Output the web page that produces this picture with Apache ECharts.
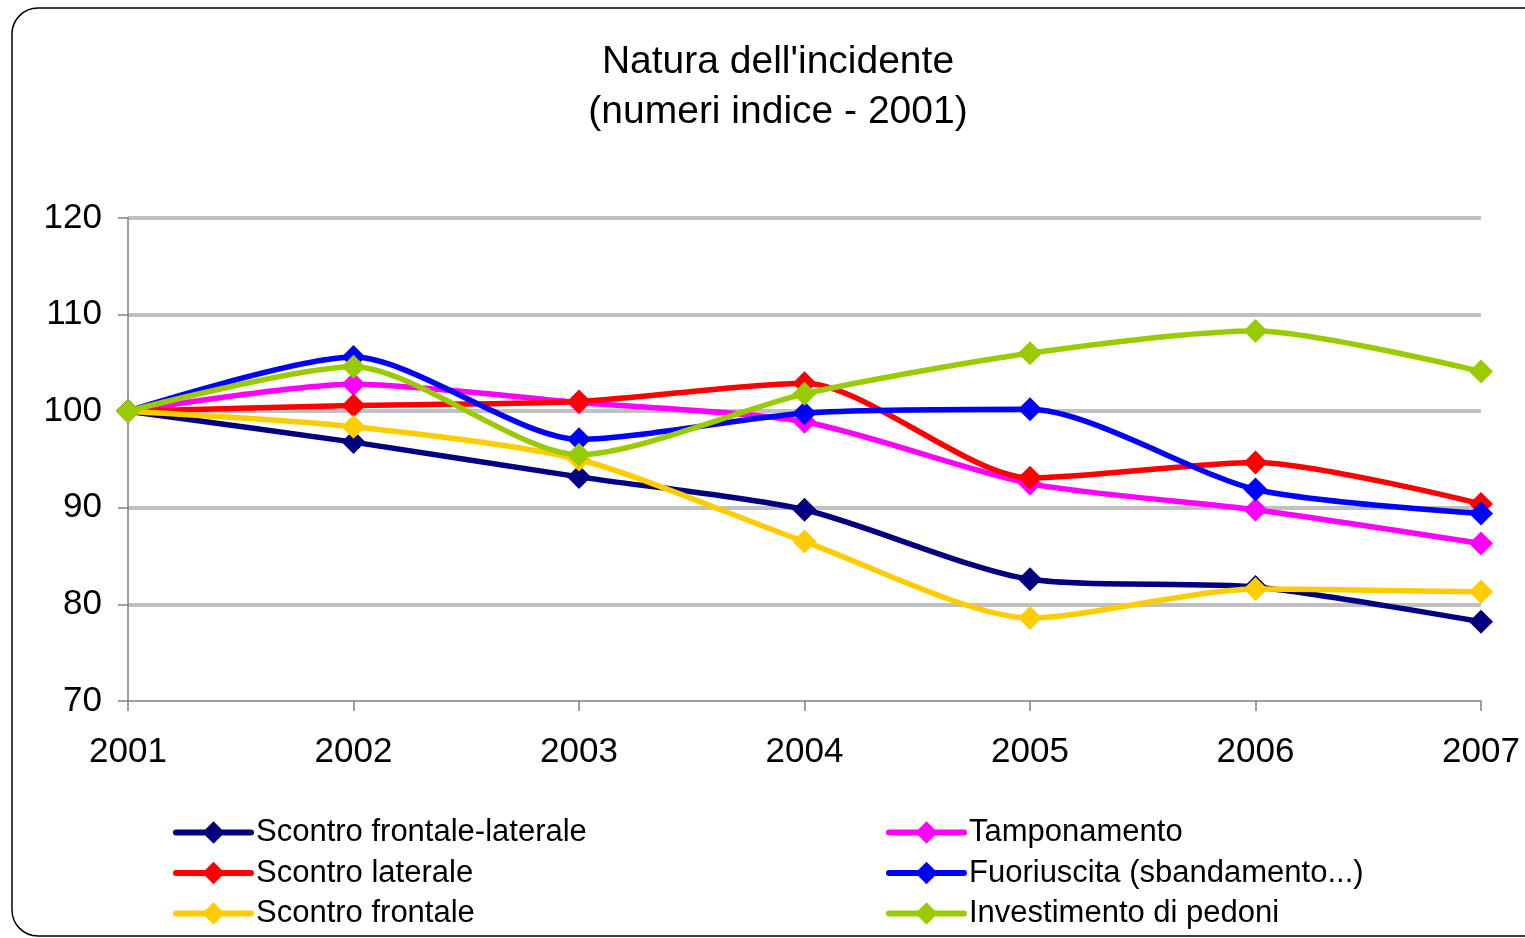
<!DOCTYPE html>
<html>
<head>
<meta charset="utf-8">
<title>Natura dell'incidente</title>
<script src="https://cdn.jsdelivr.net/npm/echarts@6/dist/echarts.min.js"></script>
<style>
  html, body { margin: 0; padding: 0; background: #fff; }
  #chart { width: 1525px; height: 938px; }
</style>
</head>
<body>
<div id="chart"></div>
<script>
// categorie (anni) e numeri indice, base 2001 = 100
var anni = ['2001', '2002', '2003', '2004', '2005', '2006', '2007'];
var frontaleLaterale = [100, 96.8, 93.2, 89.8, 82.6, 81.8, 78.2];
var tamponamento     = [100, 102.8, 100.9, 98.9, 92.5, 89.8, 86.3];
var laterale         = [100, 100.6, 101.0, 102.9, 93.1, 94.7, 90.4];
var fuoriuscita      = [100, 105.6, 97.1, 99.8, 100.2, 91.9, 89.4];
var frontale         = [100, 98.4, 95.0, 86.5, 78.6, 81.6, 81.3];
var pedoni           = [100, 104.6, 95.5, 101.8, 106.0, 108.3, 104.1];

var nomi = ['Scontro frontale-laterale', 'Tamponamento', 'Scontro laterale',
            'Fuoriuscita (sbandamento...)', 'Scontro frontale', 'Investimento di pedoni'];
var colori = ['#000080', '#FF00FF', '#FF0000', '#0000FF', '#FFCC00', '#99CC00'];
var valori = [frontaleLaterale, tamponamento, laterale, fuoriuscita, frontale, pedoni];

var FONT = "'Liberation Sans', Arial, sans-serif";

function drawIndici(el){
    var domx = document.getElementById(el);
    var myChart = echarts.init(domx, null, {renderer: 'canvas'});

    var series = [];
    for (var i = 0; i < nomi.length; i++) {
        series.push({
            name: nomi[i],
            type: 'line',
            data: valori[i],
            smooth: 0.25,
            symbol: 'diamond',
            symbolSize: 24,
            lineStyle: { width: 5.5, color: colori[i] },
            itemStyle: { color: colori[i] },
            emphasis: { disabled: true },
            z: 2 + i
        });
    }

    var legendText = { fontFamily: FONT, fontSize: 31, color: '#000', lineHeight: 30 };
    var legendBase = {
        orient: 'vertical',
        top: 817,
        padding: 0,
        itemWidth: 75,
        itemHeight: 28,
        itemGap: 9.5,
        selectedMode: false,
        lineStyle: { width: 6, cap: 'round' },
        textStyle: legendText
    };

    var option = {
        animation: false,
        graphic: [{
            type: 'rect',
            shape: { x: 12, y: 8, width: 1540, height: 928, r: 26 },
            style: { fill: 'none', stroke: '#000', lineWidth: 1.5 },
            silent: true
        }],
        title: {
            text: "Natura dell'incidente\n(numeri indice - 2001)",
            left: 778,
            top: 37,
            padding: 0,
            textAlign: 'center',
            textStyle: {
                fontFamily: FONT,
                fontSize: 39,
                fontWeight: 'normal',
                color: '#000',
                lineHeight: 50,
                align: 'center'
            }
        },
        legend: [
            Object.assign({}, legendBase, { data: [nomi[0], nomi[2], nomi[4]], left: 173 }),
            Object.assign({}, legendBase, { data: [nomi[1], nomi[3], nomi[5]], left: 886 })
        ],
        grid: {
            left: 128,
            right: 44,
            top: 218,
            bottom: 237,
            containLabel: false
        },
        xAxis: {
            type: 'category',
            data: anni,
            boundaryGap: false,
            axisLine: { lineStyle: { color: '#808080', width: 1.5 } },
            axisTick: { show: true, length: 10, lineStyle: { color: '#808080', width: 1.5 } },
            axisLabel: { fontFamily: FONT, fontSize: 35, color: '#000', margin: 34 },
            splitLine: { show: false }
        },
        yAxis: {
            type: 'value',
            min: 70,
            max: 120,
            interval: 10,
            axisLine: { show: true, lineStyle: { color: '#808080', width: 1.5 } },
            axisTick: { show: true, length: 10, lineStyle: { color: '#808080', width: 1.5 } },
            axisLabel: { fontFamily: FONT, fontSize: 35, color: '#000', margin: 26 },
            splitLine: {
                show: true,
                lineStyle: {
                    color: ['transparent', '#C0C0C0', '#C0C0C0', '#C0C0C0', '#C0C0C0', '#C0C0C0'],
                    width: 4
                }
            }
        },
        series: series
    };

    myChart.setOption(option, true);
}

drawIndici('chart');
</script>
</body>
</html>
